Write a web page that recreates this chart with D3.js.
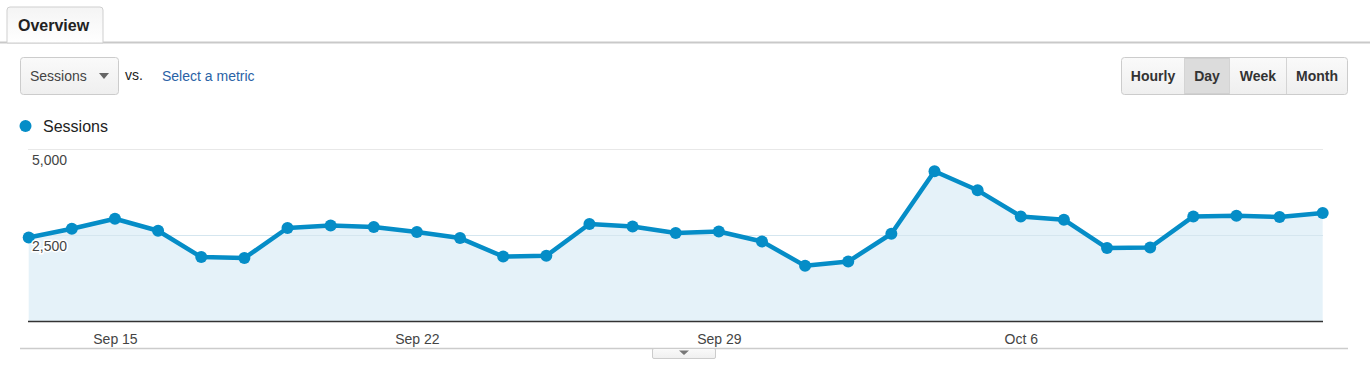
<!DOCTYPE html>
<html><head><meta charset="utf-8">
<script src="https://cdn.jsdelivr.net/npm/d3@7"></script>
<style>
html,body{margin:0;padding:0;background:#fff;}
svg{display:block;font-family:"Liberation Sans",Arial,sans-serif;}
</style></head>
<body>
<svg id="c" width="1370" height="371"></svg>
<script>
const dates = ["Sep 13","Sep 14","Sep 15","Sep 16","Sep 17","Sep 18","Sep 19","Sep 20","Sep 21","Sep 22","Sep 23","Sep 24","Sep 25","Sep 26","Sep 27","Sep 28","Sep 29","Sep 30","Oct 1","Oct 2","Oct 3","Oct 4","Oct 5","Oct 6","Oct 7","Oct 8","Oct 9","Oct 10","Oct 11","Oct 12","Oct 13"];
const sessions = [2419,2674,2965,2616,1852,1823,2695,2770,2724,2578,2404,1869,1890,2811,2741,2549,2596,2305,1599,1724,2529,4340,3788,3032,2936,2113,2131,3032,3052,3015,3131];
const xTickLabels = ["Sep 15","Sep 22","Sep 29","Oct 6"];
const yTicks = [2500,5000];
const yTickLabels = ["2,500","5,000"];
const periodButtons = ["Hourly","Day","Week","Month"];
const metricName = "Sessions";

const svg = d3.select("#c");
const defs = svg.append("defs");
const g1 = defs.append("linearGradient").attr("id","btn").attr("x1",0).attr("y1",0).attr("x2",0).attr("y2",1);
g1.append("stop").attr("offset","0%").attr("stop-color","#fafafa");
g1.append("stop").attr("offset","100%").attr("stop-color","#efefef");
const g2 = defs.append("linearGradient").attr("id","tab").attr("x1",0).attr("y1",0).attr("x2",0).attr("y2",1);
g2.append("stop").attr("offset","0%").attr("stop-color","#f4f4f4");
g2.append("stop").attr("offset","100%").attr("stop-color","#ffffff");

// Tab
svg.append("line").attr("x1",0).attr("x2",1370).attr("y1",42.5).attr("y2",42.5).attr("stroke","#c9c9c9").attr("stroke-width",2);
svg.append("path").attr("d","M7,43 L7,10 Q7,7 10,7 L100,7 Q103,7 103,10 L103,43 Z")
  .attr("fill","url(#tab)").attr("stroke","#cfcfcf").attr("stroke-width",1);
svg.append("text").attr("x",18).attr("y",31).attr("font-size",16).attr("font-weight","bold").attr("fill","#222").text("Overview");

// Dropdown
svg.append("rect").attr("x",20.5).attr("y",57.5).attr("width",98).attr("height",37).attr("rx",3)
  .attr("fill","url(#btn)").attr("stroke","#cccccc");
svg.append("text").attr("x",30).attr("y",81).attr("font-size",14).attr("fill","#444").text(metricName);
svg.append("path").attr("d","M99,73 L109,73 L104,79 Z").attr("fill","#666");
svg.append("text").attr("x",125).attr("y",80).attr("font-size",14).attr("fill","#222").text("vs.");
svg.append("text").attr("x",162).attr("y",81).attr("font-size",14).attr("fill","#2a62a6").text("Select a metric");

// Period buttons
const btnX = [1121,1184,1229,1286,1347];
const bg = svg.append("g");
bg.append("rect").attr("x",1121.5).attr("y",57.5).attr("width",226).attr("height",37).attr("rx",3)
  .attr("fill","url(#btn)").attr("stroke","#cccccc");
periodButtons.forEach((b,i)=>{
  if (b==="Day") {
    bg.append("rect").attr("x",btnX[i]+0.5).attr("y",58).attr("width",btnX[i+1]-btnX[i]).attr("height",36)
      .attr("fill","#dcdcdc").attr("stroke","#c4c4c4");
  }
  if (i>0) bg.append("line").attr("x1",btnX[i]+0.5).attr("x2",btnX[i]+0.5).attr("y1",58).attr("y2",94).attr("stroke","#d4d4d4");
  bg.append("text").attr("x",(btnX[i]+btnX[i+1])/2+0.5).attr("y",81).attr("text-anchor","middle")
    .attr("font-size",14).attr("font-weight","bold").attr("fill","#333").text(b);
});

// Legend
svg.append("circle").attr("cx",25.5).attr("cy",126).attr("r",6).attr("fill","#058dc7");
svg.append("text").attr("x",43).attr("y",132).attr("font-size",16).attr("fill","#222").text(metricName);

// Chart
const x = d3.scalePoint().domain(dates).range([28.7,1322.7]);
const y = d3.scaleLinear().domain([0,5000]).range([321,148.5]);
const plot = svg.append("g");

plot.selectAll("line.grid").data(yTicks).join("line").attr("class","grid")
  .attr("x1",28).attr("x2",1323).attr("y1",d=>Math.round(y(d))+0.5).attr("y2",d=>Math.round(y(d))+0.5)
  .attr("stroke","#e8e8e8").attr("stroke-width",1);

const area = d3.area().x((d,i)=>x(dates[i])).y0(y(0)).y1(d=>y(d));
plot.append("path").datum(sessions).attr("d",area).attr("fill","#e5f2f9");

plot.selectAll("line.grid2").data(yTicks.slice(0,1)).join("line").attr("class","grid2")
  .attr("x1",28).attr("x2",1323).attr("y1",d=>Math.round(y(d))+0.5).attr("y2",d=>Math.round(y(d))+0.5)
  .attr("stroke","#d5e6ef").attr("stroke-width",1);

const line = d3.line().x((d,i)=>x(dates[i])).y(d=>y(d));
plot.append("path").datum(sessions).attr("d",line).attr("fill","none").attr("stroke","#058dc7")
  .attr("stroke-width",4.5).attr("stroke-linejoin","round");
plot.selectAll("circle.pt").data(sessions).join("circle").attr("class","pt")
  .attr("cx",(d,i)=>x(dates[i])).attr("cy",d=>y(d)).attr("r",6).attr("fill","#058dc7");

// y labels
yTicks.forEach((t,i)=>{
  plot.append("text").attr("x",32).attr("y",y(t)+16).attr("font-size",14).attr("fill","#444")
    .attr("stroke","#fff").attr("stroke-width",3).attr("paint-order","stroke").text(yTickLabels[i]);
});

// baseline axis
const xAxis = d3.axisBottom(x).tickValues(xTickLabels.map(l=>dates.find(d=>d===l))).tickSize(0).tickPadding(13);
const ax = plot.append("g").attr("transform",`translate(0,${y(0)})`).call(xAxis);
ax.select(".domain").attr("stroke","#333").attr("stroke-width",1.5).attr("d","M28,0.5H1323");
ax.selectAll("text").attr("font-size",14).attr("fill","#444").attr("font-family","Liberation Sans, Arial, sans-serif");

// bottom line and handle
svg.append("line").attr("x1",20).attr("x2",1348).attr("y1",348.5).attr("y2",348.5).attr("stroke","#cccccc").attr("stroke-width",1.5);
svg.append("rect").attr("x",652.5).attr("y",348.5).attr("width",63).attr("height",10).attr("rx",1.5)
  .attr("fill","url(#btn)").attr("stroke","#cccccc");
svg.append("path").attr("d","M679,350.5 L689,350.5 L684,355 Z").attr("fill","#777");
</script>
</body></html>
